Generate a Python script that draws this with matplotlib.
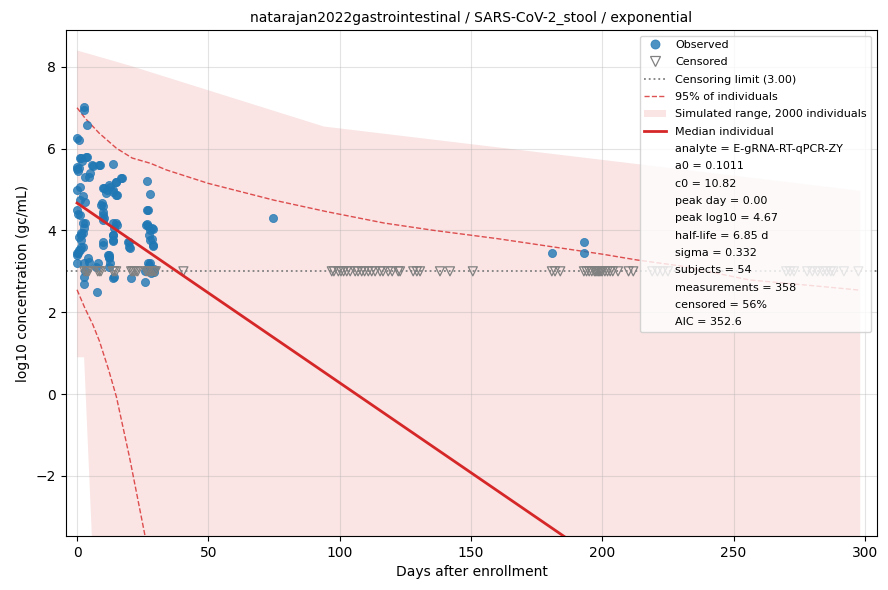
import matplotlib
matplotlib.use("Agg")
import matplotlib.pyplot as plt
from matplotlib.lines import Line2D
from matplotlib.patches import Patch
import numpy as np

# ---------------- data ----------------
obs_day = [2.7, 2.7, 3.9, 0.0, 0.9, 1.1, 3.7, 2.0, 0.0, 0.3, 5.7, 8.8, 13.7, 5.0, 4.4, 3.0,
           17.0, 15.0, 12.6, 10.0, 11.3, 13.8, 15.1, 26.6, 27.9, 26.8, 26.8, 27.8, 29.0, 27.8,
           29.0, 27.0, 0.0, 1.1, 2.3, 1.1, 2.9, 0.0, 0.4, 1.1, 3.0, 2.3, 1.7, 2.4, 1.1, 0.0,
           0.0, 9.4, 10.0, 9.8, 10.0, 13.7, 15.1, 13.8, 13.8, 10.0, 10.0, 12.0, 12.3, 12.6,
           19.5, 20.0, 2.7, 2.7, 7.7, 13.8, 20.6, 25.9, 2.7, 2.9, 4.4, 7.3, 12.2, 27.8, 29.3,
           26.0, 3.4, 1.5, 0.0, 0.9, 6.0, 8.5, 10.4, 12.3, 14.9, 16.8, 11.0, 13.6, 14.9, 9.1,
           9.8, 10.4, 14.9, 14.2, 13.6, 13.6, 19.9, 19.9, 26.9, 26.3, 27.0, 28.4, 27.5, 28.6,
           29.1, 2.2, 2.8, 1.5, 0.9, 1.5, 1.5, 0.9, 0.4, 0.0, 4.0, 7.9, 11.7, 12.3, 14.2,
           27.5, 29.4, 28.2, 74.6, 181.0, 193.0, 193.0]
obs_val = [7.02, 6.94, 6.58, 6.26, 6.21, 5.77, 5.80, 5.70, 5.50, 5.45, 5.60, 5.60, 5.62, 5.40,
           5.30, 5.30, 5.27, 5.19, 5.07, 5.03, 4.99, 5.00, 4.87, 5.21, 4.90, 4.50, 4.16, 4.00,
           4.03, 3.77, 3.64, 3.20, 4.99, 5.07, 4.83, 4.75, 4.70, 4.50, 4.40, 4.37, 4.17, 3.93,
           3.90, 3.60, 3.52, 3.44, 3.20, 4.66, 4.60, 4.38, 4.25, 4.17, 4.13, 3.89, 3.74, 3.72,
           3.64, 3.40, 3.35, 3.20, 3.72, 3.57, 2.87, 2.70, 2.50, 2.83, 2.83, 2.75, 3.20, 3.00,
           3.24, 3.10, 3.10, 3.20, 3.05, 3.00, 5.80, 5.77, 5.56, 5.53, 5.58, 5.60, 5.03, 5.11,
           5.18, 5.27, 4.91, 4.95, 4.87, 4.62, 4.46, 4.30, 4.17, 4.05, 3.89, 3.77, 3.72, 3.60,
           4.50, 4.14, 4.10, 4.05, 3.90, 3.80, 3.62, 4.17, 4.05, 3.93, 3.85, 3.77, 3.60, 3.52,
           3.44, 3.40, 3.32, 3.20, 3.40, 3.32, 2.87, 3.15, 2.99, 2.95, 4.30, 3.44, 3.71, 3.46]

cens_day = [2.8, 3.5, 4.0, 4.5, 7.9, 8.5, 9.1, 13.6, 14.2, 14.9, 20.6, 21.2, 21.8, 22.5, 23.1,
            26.3, 26.9, 27.5, 28.2, 28.8, 29.4, 30.0, 40.5, 97.0, 97.8, 99.5, 100.5, 101.5,
            102.7, 104.0, 105.9, 107.0, 108.4, 109.5, 110.9, 112.2, 113.5, 115.4, 116.5, 118.5,
            120.0, 122.3, 123.0, 128.0, 129.4, 130.6, 138.2, 142.0, 150.7, 180.8, 182.0, 184.0,
            193.0, 194.0, 195.0, 196.0, 197.0, 197.5, 198.0, 198.5, 199.0, 199.5, 200.0, 201.0,
            202.0, 203.0, 204.0, 206.0, 210.0, 211.8, 219.0, 221.0, 223.0, 225.0, 270.0, 271.5,
            273.0, 278.0, 280.0, 282.0, 284.0, 285.5, 287.0, 288.0, 292.0, 297.5]
cens_limit = 3.0

band_day = [0.0, 2.7, 6.0, 20.0, 94.0, 298.2]
band_hi = [8.40, 8.35, 8.29, 8.03, 6.54, 4.97]
band_lo = [0.90, 0.90, -4.00, -10.0, -10.0, -10.0]

p95_hi_day = [0, 3, 8.4, 15, 21, 28, 34, 50, 75, 95, 117, 136, 160, 181, 200, 213, 230, 256, 280, 298.2]
p95_hi_val = [7.00, 6.75, 6.38, 6.01, 5.77, 5.64, 5.48, 5.15, 4.74, 4.46, 4.18, 4.00, 3.80,
              3.60, 3.42, 3.28, 3.13, 2.79, 2.65, 2.54]
p95_lo_day = [0, 3, 6, 8.5, 12, 15, 20, 26, 30]
p95_lo_val = [2.55, 2.10, 1.70, 1.30, 0.60, -0.07, -1.55, -3.50, -4.60]

peak_log10 = 4.67
half_life = 6.85
t_end = 298.2

stats = ["analyte = E-gRNA-RT-qPCR-ZY", "a0 = 0.1011", "c0 = 10.82", "peak day = 0.00",
         "peak log10 = 4.67", "half-life = 6.85 d", "sigma = 0.332", "subjects = 54",
         "measurements = 358", "censored = 56%", "AIC = 352.6"]

# ---------------- plot ----------------
fig = plt.figure(figsize=(8.88, 5.90), dpi=100)
ax = fig.add_axes([66/888, 1-536/590, (877-66)/888, (536-30)/590])

red = "#d62728"
blue = "#1f77b4"
ax.fill_between(band_day, band_lo, band_hi, color=red, alpha=0.12, linewidth=0, zorder=1)
ax.plot(p95_hi_day, p95_hi_val, ls="--", color=red, alpha=0.8, lw=1.0, zorder=2)
ax.plot(p95_lo_day, p95_lo_val, ls="--", color=red, alpha=0.8, lw=1.0, zorder=2)
t = np.linspace(0, t_end, 300)
ax.plot(t, peak_log10 - np.log10(2) / half_life * t, color=red, lw=2, zorder=4)
ax.axhline(cens_limit, color="gray", ls=":", lw=1.3, zorder=2)
ax.scatter(obs_day, obs_val, s=34, color=blue, alpha=0.8, linewidths=0.6, zorder=3)
ax.scatter(cens_day, [cens_limit]*len(cens_day), s=42, marker="v", facecolors="none",
           edgecolors="gray", linewidths=0.9, zorder=3)

ax.set_xlim(-4.2, 304.6)
ax.set_ylim(-3.47, 8.9)
ax.grid(True, color="#b0b0b0", alpha=0.35, lw=0.8)
ax.set_xlabel("Days after enrollment", fontsize=10)
ax.set_ylabel("log10 concentration (gc/mL)", fontsize=10)
ax.set_title("natarajan2022gastrointestinal / SARS-CoV-2_stool / exponential", fontsize=10)

handles = [
    Line2D([], [], ls="none", marker="o", color=blue, alpha=0.8, markersize=6.5, markeredgewidth=0.6),
    Line2D([], [], ls="none", marker="v", markerfacecolor="none", markeredgecolor="gray", markersize=7,
           markeredgewidth=0.9),
    Line2D([], [], ls=":", color="gray", lw=1.3),
    Line2D([], [], ls="--", color=red, alpha=0.8, lw=1.0),
    Patch(facecolor=red, alpha=0.12, edgecolor="none"),
    Line2D([], [], color=red, lw=2),
]
labels = ["Observed", "Censored", f"Censoring limit ({cens_limit:.2f})", "95% of individuals",
          "Simulated range, 2000 individuals", "Median individual"]
for s in stats:
    handles.append(Line2D([], [], ls="none"))
    labels.append(s)
ax.legend(handles, labels, loc="upper right", fontsize=8, labelspacing=0.66,
          borderaxespad=0.5)

fig.savefig("out.png", dpi=100)
